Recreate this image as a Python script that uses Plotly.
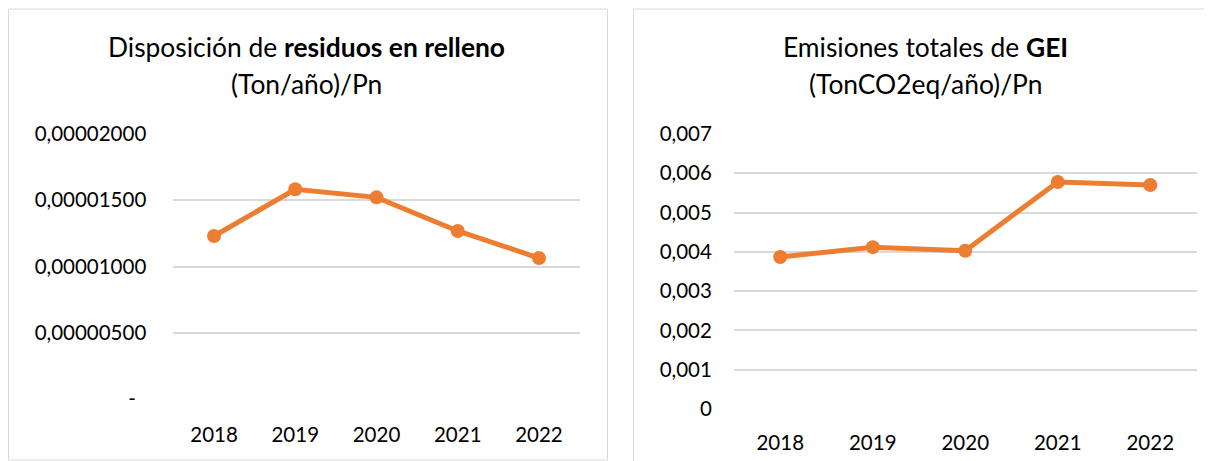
import plotly.graph_objects as go

# Reference image is 1212x461; browser body margin offsets the figure by 8px,
# so the figure is drawn 8px smaller and all reference pixel positions shifted.
REF_W, REF_H = 1212, 461
OFF = 8
W, H = REF_W - OFF, REF_H - OFF

years = ["2018", "2019", "2020", "2021", "2022"]
residuos = [1.230e-5, 1.583e-5, 1.522e-5, 1.268e-5, 1.064e-5]
gei = [0.00387, 0.00412, 0.00403, 0.00578, 0.00570]

left_tickvals = [0, 0.000005, 0.00001, 0.000015, 0.00002]
left_ticktext = ["-\u00a0\u00a0", "0,00000500", "0,00001000", "0,00001500", "0,00002000"]
right_tickvals = [0, 0.001, 0.002, 0.003, 0.004, 0.005, 0.006, 0.007]
right_ticktext = ["0", "0,001", "0,002", "0,003", "0,004", "0,005", "0,006", "0,007"]

ORANGE = "#ED7D31"
GRID = "#D9D9D9"
FONT = "Lato"


def px_x(p):
    return (p - OFF) / W


def px_y(p):
    return 1 - (p - OFF) / H


fig = go.Figure()

fig.add_trace(go.Scatter(x=years, y=residuos, mode="lines+markers",
                         line=dict(color=ORANGE, width=5),
                         marker=dict(color=ORANGE, size=14),
                         xaxis="x", yaxis="y", showlegend=False))
fig.add_trace(go.Scatter(x=years, y=gei, mode="lines+markers",
                         line=dict(color=ORANGE, width=5),
                         marker=dict(color=ORANGE, size=14),
                         xaxis="x2", yaxis="y2", showlegend=False))

tickfont = dict(family=FONT, size=20.5, color="#000000")

fig.update_layout(
    template="none",
    width=W, height=H,
    margin=dict(l=0, r=0, t=0, b=0, pad=0),
    paper_bgcolor="white", plot_bgcolor="white",
    font=dict(family=FONT, color="#000000"),
    xaxis=dict(domain=[px_x(173.4), px_x(579.6)], type="category", range=[-0.5, 4.5],
               showgrid=False, zeroline=False, showline=False, automargin=False,
               ticks="outside", ticklen=17, tickcolor="rgba(0,0,0,0)",
               tickfont=tickfont, anchor="y"),
    yaxis=dict(domain=[px_y(399), px_y(134)], range=[0, 0.00002],
               tickvals=left_tickvals, ticktext=left_ticktext,
               showgrid=True, gridcolor=GRID, gridwidth=1.5,
               zeroline=False, showline=False, automargin=False,
               ticks="outside", ticklen=22, tickcolor="rgba(0,0,0,0)",
               tickfont=tickfont, anchor="x"),
    xaxis2=dict(domain=[px_x(734), px_x(1196.5)], type="category", range=[-0.5, 4.5],
                showgrid=False, zeroline=False, showline=False, automargin=False,
                ticks="outside", ticklen=15, tickcolor="rgba(0,0,0,0)",
                tickfont=tickfont, anchor="y2"),
    yaxis2=dict(domain=[px_y(409), px_y(134)], range=[0, 0.007],
                tickvals=right_tickvals, ticktext=right_ticktext,
                showgrid=True, gridcolor=GRID, gridwidth=1.5,
                zeroline=False, showline=False, automargin=False,
                ticks="outside", ticklen=17, tickcolor="rgba(0,0,0,0)",
                tickfont=tickfont, anchor="x2"),
)

# Panel borders
fig.add_shape(type="rect", xref="paper", yref="paper",
              x0=px_x(8.5), x1=px_x(607.5), y0=px_y(460), y1=px_y(9),
              line=dict(color=GRID, width=1), fillcolor="rgba(0,0,0,0)", layer="below")
fig.add_shape(type="rect", xref="paper", yref="paper",
              x0=px_x(633.5), x1=px_x(1230), y0=px_y(480), y1=px_y(9),
              line=dict(color=GRID, width=1), fillcolor="rgba(0,0,0,0)", layer="below")

title_font = dict(family=FONT, size=26.4, color="#000000")
titles = [
    (306, 47, "Disposición de <b>residuos en relleno</b>"),
    (306, 84, "(Ton/año)/Pn"),
    (925, 47, "Emisiones totales de <b>GEI</b>"),
    (925, 84, "(TonCO2eq/año)/Pn"),
]
for cx, cy, txt in titles:
    fig.add_annotation(x=px_x(cx), y=px_y(cy), xref="paper", yref="paper",
                       text=txt, showarrow=False, xanchor="center", yanchor="middle",
                       font=title_font)

fig.write_html("out.html")
